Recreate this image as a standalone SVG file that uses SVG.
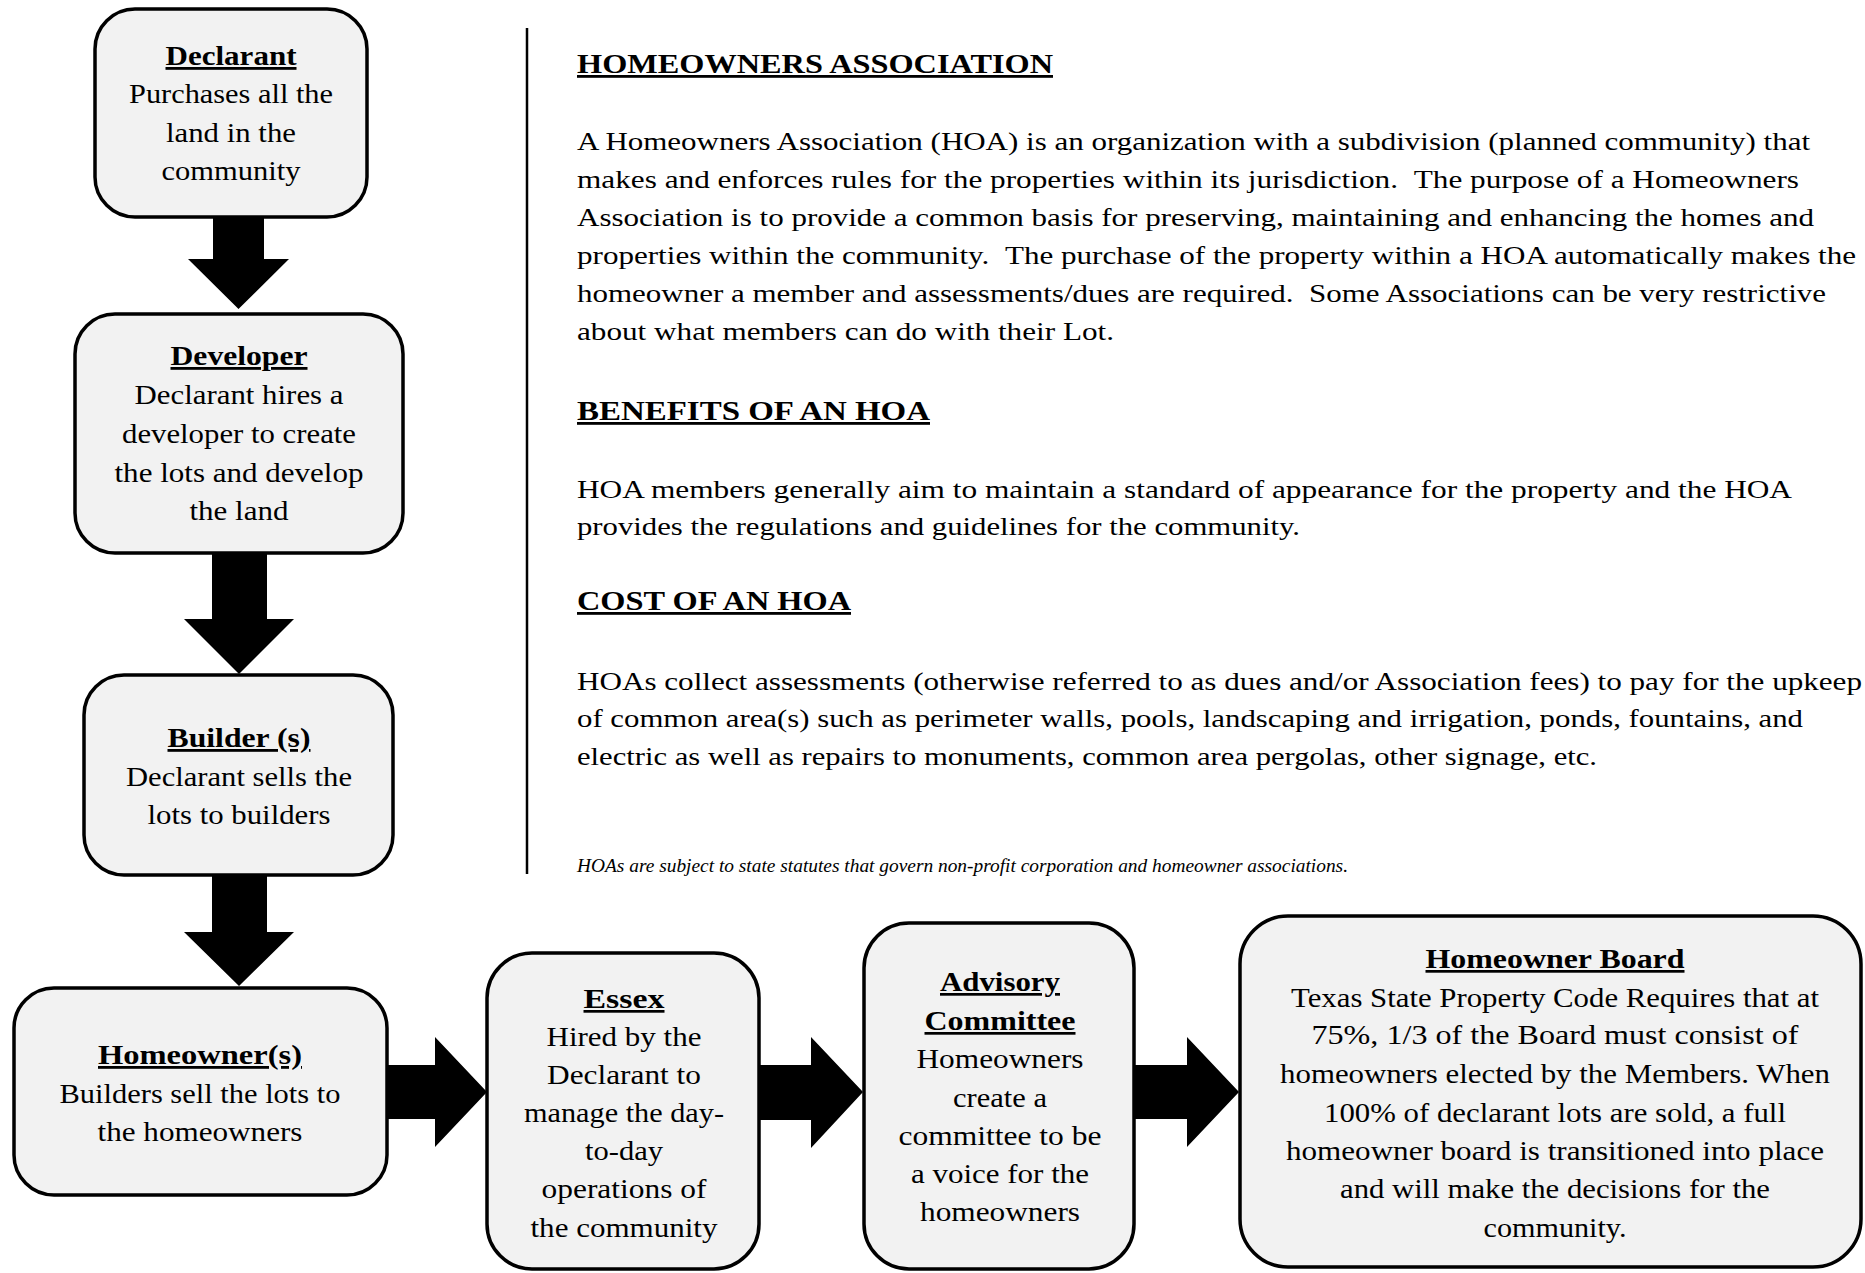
<svg xmlns="http://www.w3.org/2000/svg" width="1865" height="1273" viewBox="0 0 1865 1273">
<style>
.box{fill:#f2f2f2;stroke:#000;stroke-width:3.5}
.arr{fill:#000;stroke:none}
text{font-family:"Liberation Serif","Times New Roman",serif;fill:#000}
.c{font-size:28px;text-anchor:middle}
.c2{font-size:27px;text-anchor:middle}
.h{font-weight:bold;text-decoration:underline}
.p{font-size:25px}
.ph{font-size:28px;font-weight:bold;text-decoration:underline}
.fn{font-size:19px;font-style:italic}
</style>
<rect width="1865" height="1273" fill="#fff"/>
<g id="connectors">
<polygon class="arr" points="213,215 264,215 264,259 289,259 238.5,309 188,259 213,259"/>
<polygon class="arr" points="212,552 267,552 267,619 294,619 239,674 184,619 212,619"/>
<polygon class="arr" points="212,874 267,874 267,932 294,932 239,986 184,932 212,932"/>
<polygon class="arr" points="386,1065 435,1065 435,1037 487,1092 435,1147 435,1119 386,1119"/>
<polygon class="arr" points="758,1065 811,1065 811,1037 863,1092 811,1148 811,1120 758,1120"/>
<polygon class="arr" points="1134,1065 1187,1065 1187,1037 1239,1092 1187,1147 1187,1119 1134,1119"/>
</g>
<g id="node-declarant">
<rect class="box" x="95" y="9" width="272" height="208" rx="40"/>
<text class="c h" x="231" y="65" textLength="131" lengthAdjust="spacingAndGlyphs">Declarant</text>
<text class="c" x="231" y="103" textLength="204" lengthAdjust="spacingAndGlyphs">Purchases all the</text>
<text class="c" x="231" y="142" textLength="130" lengthAdjust="spacingAndGlyphs">land in the</text>
<text class="c" x="231" y="180" textLength="139" lengthAdjust="spacingAndGlyphs">community</text>
</g>
<g id="node-developer">
<rect class="box" x="75" y="314" width="328" height="239" rx="40"/>
<text class="c h" x="239" y="365" textLength="137" lengthAdjust="spacingAndGlyphs">Developer</text>
<text class="c" x="239" y="404" textLength="209" lengthAdjust="spacingAndGlyphs">Declarant hires a</text>
<text class="c" x="239" y="443" textLength="234" lengthAdjust="spacingAndGlyphs">developer to create</text>
<text class="c" x="239" y="482" textLength="249" lengthAdjust="spacingAndGlyphs">the lots and develop</text>
<text class="c" x="239" y="520" textLength="99" lengthAdjust="spacingAndGlyphs">the land</text>
</g>
<g id="node-builder">
<rect class="box" x="84" y="675" width="309" height="200" rx="40"/>
<text class="c h" x="239" y="747" textLength="143" lengthAdjust="spacingAndGlyphs">Builder (s)</text>
<text class="c" x="239" y="786" textLength="226" lengthAdjust="spacingAndGlyphs">Declarant sells the</text>
<text class="c" x="239" y="824" textLength="183" lengthAdjust="spacingAndGlyphs">lots to builders</text>
</g>
<g id="node-homeowners">
<rect class="box" x="14" y="988" width="373" height="207" rx="40"/>
<text class="c h" x="200" y="1064" textLength="204" lengthAdjust="spacingAndGlyphs">Homeowner(s)</text>
<text class="c" x="200" y="1103" textLength="281" lengthAdjust="spacingAndGlyphs">Builders sell the lots to</text>
<text class="c" x="200" y="1141" textLength="205" lengthAdjust="spacingAndGlyphs">the homeowners</text>
</g>
<g id="node-essex">
<rect class="box" x="487" y="953" width="272" height="316" rx="45"/>
<text class="c2 h" x="624" y="1008" textLength="81" lengthAdjust="spacingAndGlyphs">Essex</text>
<text class="c2" x="624" y="1046" textLength="155" lengthAdjust="spacingAndGlyphs">Hired by the</text>
<text class="c2" x="624" y="1084" textLength="154" lengthAdjust="spacingAndGlyphs">Declarant to</text>
<text class="c2" x="624" y="1122" textLength="200" lengthAdjust="spacingAndGlyphs">manage the day-</text>
<text class="c2" x="624" y="1160" textLength="78" lengthAdjust="spacingAndGlyphs">to-day</text>
<text class="c2" x="624" y="1198" textLength="165" lengthAdjust="spacingAndGlyphs">operations of</text>
<text class="c2" x="624" y="1237" textLength="187" lengthAdjust="spacingAndGlyphs">the community</text>
</g>
<g id="node-advisory">
<rect class="box" x="864" y="923" width="270" height="346" rx="45"/>
<text class="c2 h" x="1000" y="991" textLength="120" lengthAdjust="spacingAndGlyphs">Advisory</text>
<text class="c2 h" x="1000" y="1030" textLength="151" lengthAdjust="spacingAndGlyphs">Committee</text>
<text class="c2" x="1000" y="1068" textLength="167" lengthAdjust="spacingAndGlyphs">Homeowners</text>
<text class="c2" x="1000" y="1107" textLength="94" lengthAdjust="spacingAndGlyphs">create a</text>
<text class="c2" x="1000" y="1145" textLength="203" lengthAdjust="spacingAndGlyphs">committee to be</text>
<text class="c2" x="1000" y="1183" textLength="178" lengthAdjust="spacingAndGlyphs">a voice for the</text>
<text class="c2" x="1000" y="1221" textLength="160" lengthAdjust="spacingAndGlyphs">homeowners</text>
</g>
<g id="node-board">
<rect class="box" x="1240" y="916" width="621" height="351" rx="48"/>
<text class="c2 h" x="1555" y="968" textLength="259" lengthAdjust="spacingAndGlyphs">Homeowner Board</text>
<text class="c2" x="1555" y="1007" textLength="528" lengthAdjust="spacingAndGlyphs">Texas State Property Code Requires that at</text>
<text class="c2" x="1555" y="1044" textLength="487" lengthAdjust="spacingAndGlyphs">75%, 1/3 of the Board must consist of</text>
<text class="c2" x="1555" y="1083" textLength="550" lengthAdjust="spacingAndGlyphs">homeowners elected by the Members. When</text>
<text class="c2" x="1555" y="1122" textLength="462" lengthAdjust="spacingAndGlyphs">100% of declarant lots are sold, a full</text>
<text class="c2" x="1555" y="1160" textLength="538" lengthAdjust="spacingAndGlyphs">homeowner board is transitioned into place</text>
<text class="c2" x="1555" y="1198" textLength="430" lengthAdjust="spacingAndGlyphs">and will make the decisions for the</text>
<text class="c2" x="1555" y="1237" textLength="143" lengthAdjust="spacingAndGlyphs">community.</text>
</g>
<g id="info-panel">
<line x1="527" y1="28" x2="527" y2="874" stroke="#000" stroke-width="2.5"/>
<text class="ph" x="577" y="73" textLength="476" lengthAdjust="spacingAndGlyphs">HOMEOWNERS ASSOCIATION</text>
<text class="p" x="577" y="150" textLength="1233" lengthAdjust="spacingAndGlyphs">A Homeowners Association (HOA) is an organization with a subdivision (planned community) that</text>
<text class="p" x="577" y="188" textLength="1222" lengthAdjust="spacingAndGlyphs">makes and enforces rules for the properties within its jurisdiction. &#160;The purpose of a Homeowners</text>
<text class="p" x="577" y="226" textLength="1237" lengthAdjust="spacingAndGlyphs">Association is to provide a common basis for preserving, maintaining and enhancing the homes and</text>
<text class="p" x="577" y="264" textLength="1279" lengthAdjust="spacingAndGlyphs">properties within the community. &#160;The purchase of the property within a HOA automatically makes the</text>
<text class="p" x="577" y="302" textLength="1249" lengthAdjust="spacingAndGlyphs">homeowner a member and assessments/dues are required. &#160;Some Associations can be very restrictive</text>
<text class="p" x="577" y="340" textLength="537" lengthAdjust="spacingAndGlyphs">about what members can do with their Lot.</text>
<text class="ph" x="577" y="420" textLength="353" lengthAdjust="spacingAndGlyphs">BENEFITS OF AN HOA</text>
<text class="p" x="577" y="498" textLength="1215" lengthAdjust="spacingAndGlyphs">HOA members generally aim to maintain a standard of appearance for the property and the HOA</text>
<text class="p" x="577" y="535" textLength="723" lengthAdjust="spacingAndGlyphs">provides the regulations and guidelines for the community.</text>
<text class="ph" x="577" y="610" textLength="274" lengthAdjust="spacingAndGlyphs">COST OF AN HOA</text>
<text class="p" x="577" y="690" textLength="1285" lengthAdjust="spacingAndGlyphs">HOAs collect assessments (otherwise referred to as dues and/or Association fees) to pay for the upkeep</text>
<text class="p" x="577" y="727" textLength="1226" lengthAdjust="spacingAndGlyphs">of common area(s) such as perimeter walls, pools, landscaping and irrigation, ponds, fountains, and</text>
<text class="p" x="577" y="765" textLength="1020" lengthAdjust="spacingAndGlyphs">electric as well as repairs to monuments, common area pergolas, other signage, etc.</text>
<text class="fn" x="577" y="872" textLength="771" lengthAdjust="spacingAndGlyphs">HOAs are subject to state statutes that govern non-profit corporation and homeowner associations.</text>
</g>
</svg>
